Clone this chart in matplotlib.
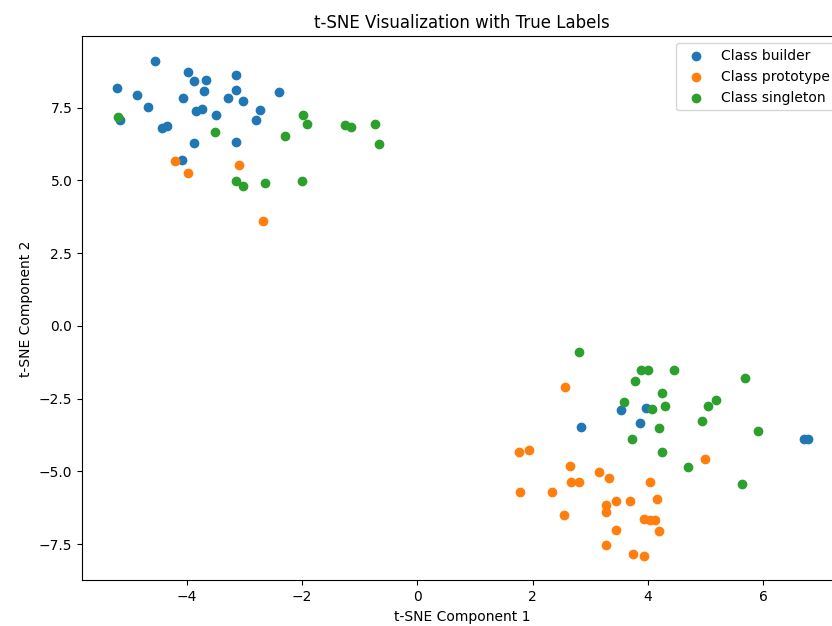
import numpy as np
from matplotlib import pyplot as plt

# точки t-SNE
builder_x = [-4.56, -5.22, -4.87, -4.67, -5.16, -4.43, -4.35, -3.98, -3.88, -3.66,
             -3.71, -4.07, -3.84, -3.73, -3.49, -3.87, -4.08, -3.14, -3.14, -3.29,
             -3.03, -2.73, -2.80, -3.14, -2.40,
             3.53, 3.96, 3.86, 2.84, 6.71, 6.77]
builder_y = [9.09, 8.18, 7.92, 7.51, 7.06, 6.81, 6.88, 8.73, 8.40, 8.43,
             8.07, 7.81, 7.39, 7.46, 7.25, 6.28, 5.69, 8.63, 8.10, 7.84,
             7.74, 7.40, 7.06, 6.32, 8.03,
             -2.89, -2.81, -3.34, -3.49, -3.89, -3.89]

prototype_x = [-4.20, -3.98, -3.10, -2.68,
               2.56, 4.99, 2.64, 2.67, 2.81, 2.34, 3.16, 3.32, 4.03, 4.16,
               3.44, 3.69, 3.27, 3.27, 2.54, 3.93, 4.03, 4.13, 4.20, 3.45,
               3.27, 3.75, 3.94, 1.76, 1.94, 1.78]
prototype_y = [5.66, 5.26, 5.52, 3.59,
               -2.11, -4.59, -4.81, -5.38, -5.38, -5.71, -5.01, -5.23, -5.38, -5.96,
               -6.01, -6.01, -6.17, -6.41, -6.51, -6.64, -6.66, -6.66, -7.04, -7.00,
               -7.52, -7.85, -7.90, -4.34, -4.25, -5.72]

singleton_x = [-5.19, -3.52, -1.98, -1.91, -2.30, -1.26, -1.16, -0.74, -0.66, -3.14,
               -3.02, -2.64, -2.00,
               2.80, 3.88, 4.00, 4.46, 3.77, 5.69, 4.24, 3.59, 4.29, 4.07,
               5.04, 5.19, 4.94, 4.20, 5.91, 3.72, 4.25, 4.70, 5.64]
singleton_y = [7.18, 6.65, 7.25, 6.95, 6.51, 6.90, 6.83, 6.95, 6.25, 4.99,
               4.81, 4.91, 4.99,
               -0.90, -1.52, -1.52, -1.52, -1.90, -1.78, -2.30, -2.63, -2.74, -2.86,
               -2.74, -2.56, -3.26, -3.52, -3.63, -3.89, -4.34, -4.84, -5.44]

class_names = ['builder', 'prototype', 'singleton']
xs = [builder_x, prototype_x, singleton_x]
ys = [builder_y, prototype_y, singleton_y]

fig = plt.figure(figsize=(8.32, 6.26), dpi=100)
# правая граница осей уходит за край картинки, как в оригинале
ax = fig.add_axes([0.0986, 0.0727, 0.9135, 0.869])

for name, x, y in zip(class_names, xs, ys):
    ax.scatter(np.array(x), np.array(y), label='Class ' + name)

ax.set_title('t-SNE Visualization with True Labels')
ax.set_xlabel('t-SNE Component 1')
ax.set_ylabel('t-SNE Component 2')
ax.legend(loc='upper right')

fig.savefig('out.png', dpi=100)
